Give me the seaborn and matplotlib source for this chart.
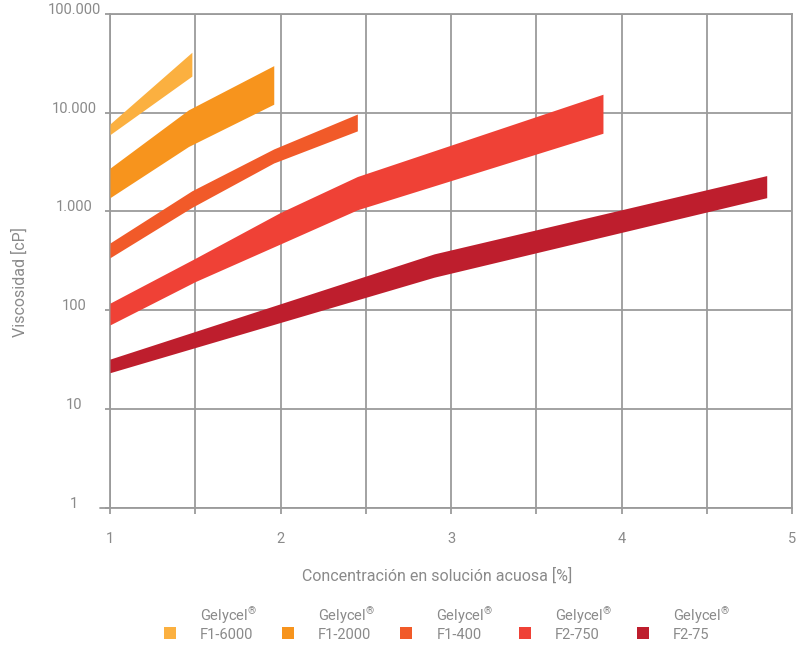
import numpy as np
import pandas as pd
import matplotlib
matplotlib.use("Agg")
import matplotlib.pyplot as plt
import seaborn as sns
from matplotlib.ticker import FixedLocator, FixedFormatter, NullFormatter

# ---------------- data ----------------
series = ["F1-6000", "F1-2000", "F1-400", "F2-750", "F2-75"]
brand = "Gelycel$^{®}$"
colors = ["#FBB040", "#F7941D", "#F15A29", "#EF4136", "#BE1E2D"]

f1_6000_x = [1.0, 1.48]
f1_6000_hi = [7700, 41000]
f1_6000_lo = [6000, 23500]

f1_2000_x = [1.0, 1.46, 1.96]
f1_2000_hi = [2750, 10700, 30000]
f1_2000_lo = [1380, 4550, 12200]

f1_400_x = [1.0, 1.48, 1.96, 2.45]
f1_400_hi = [480, 1620, 4300, 9700]
f1_400_lo = [340, 1100, 3100, 6550]

f2_750_x = [1.0, 1.5, 2.0, 2.45, 3.89]
f2_750_hi = [118, 336, 980, 2260, 15400]
f2_750_lo = [71, 195, 470, 1040, 6200]

f2_75_x = [1.0, 2.9, 4.85]
f2_75_hi = [32, 372, 2310]
f2_75_lo = [23.3, 216, 1380]

x_ticks = [1, 2, 3, 4, 5]
x_minor = [1.5, 2.5, 3.5, 4.5]
y_ticks = [1, 10, 100, 1000, 10000, 100000]
y_labels = ["1", "10", "100", "1.000", "10.000", "100.000"]

x_label = "Concentración en solución acuosa [%]"
y_label = "Viscosidad [cP]"

bands = {
    "F1-6000": (f1_6000_x, f1_6000_lo, f1_6000_hi),
    "F1-2000": (f1_2000_x, f1_2000_lo, f1_2000_hi),
    "F1-400": (f1_400_x, f1_400_lo, f1_400_hi),
    "F2-750": (f2_750_x, f2_750_lo, f2_750_hi),
    "F2-75": (f2_75_x, f2_75_lo, f2_75_hi),
}
rows = []
for name in series:
    xs, lo, hi = bands[name]
    for x, l, h in zip(xs, lo, hi):
        rows.append({"serie": name, "x": x, "lo": l, "hi": h})
df = pd.DataFrame(rows)

# ---------------- style ----------------
sns.set_theme(style="white")
plt.rcParams["font.family"] = ["Roboto", "DejaVu Sans"]
plt.rcParams["mathtext.fontset"] = "custom"
plt.rcParams["mathtext.rm"] = "Roboto"
plt.rcParams["mathtext.it"] = "Roboto"
plt.rcParams["mathtext.default"] = "regular"
grid_c = "#9b9b9b"
text_c = "#8a8a8a"
lw = 1.3

W, H = 799, 646
fig = plt.figure(figsize=(W / 100, H / 100), dpi=100)
x0, x1, y0, y1 = 110, 792.3, 14, 507.7
ax = fig.add_axes([x0 / W, 1 - y1 / H, (x1 - x0) / W, (y1 - y0) / H])

handles = []
for name, col in zip(series, colors):
    d = df[df["serie"] == name]
    ax.fill_between(d["x"], d["lo"], d["hi"], color=col, linewidth=0, zorder=3)
    handles.append(plt.Line2D([], [], marker="s", linestyle="none", markersize=8.4,
                              markerfacecolor=col, markeredgewidth=0))

ax.set_yscale("log")
ax.set_xlim(1, 5)
ax.set_ylim(1, 100000)

ax.xaxis.set_major_locator(FixedLocator(x_ticks))
ax.xaxis.set_minor_locator(FixedLocator(x_minor))
ax.xaxis.set_minor_formatter(NullFormatter())
ax.yaxis.set_major_locator(FixedLocator(y_ticks))
ax.yaxis.set_major_formatter(FixedFormatter(y_labels))
ax.yaxis.set_minor_locator(FixedLocator([]))

ax.grid(True, axis="x", which="both", color=grid_c, linewidth=lw, zorder=1)
ax.grid(True, axis="y", which="major", color=grid_c, linewidth=lw, zorder=1)
ax.set_axisbelow(True)
for s in ax.spines.values():
    s.set_color(grid_c)
    s.set_linewidth(lw)
    s.set_zorder(1)

ax.tick_params(axis="x", which="both", direction="out", length=4.3, width=lw,
               color=grid_c, pad=13, labelsize=10.5, labelcolor=text_c, bottom=True)
ax.tick_params(axis="y", which="major", direction="out", length=3.6, width=lw,
               color=grid_c, pad=22.3, labelsize=10.5, labelcolor=text_c, left=True)
for t in ax.get_yticklabels():
    t.set_verticalalignment("baseline")
    t.set_horizontalalignment("center")

# extension of the base line to the left
ax.plot([-10 / (x1 - x0), 0], [0, 0], transform=ax.transAxes, clip_on=False,
        color=grid_c, linewidth=lw)

ax.set_xlabel(x_label, fontsize=11.5, color=text_c)
ax.xaxis.set_label_coords((436.7 - x0) / (x1 - x0), (y1 - 568) / (y1 - y0))
ax.set_ylabel(y_label, fontsize=11.5, color=text_c)
ax.yaxis.set_label_coords((28 - x0) / (x1 - x0), (y1 - 282.5) / (y1 - y0))

fs = 10.5
leg = fig.legend(handles, [f"{brand}\n{s}" for s in series], ncol=5, frameon=False,
                 loc="center", bbox_to_anchor=(447 / W, 1 - 624 / H),
                 fontsize=fs, handlelength=0.8, handletextpad=1.66,
                 columnspacing=1.75, borderpad=0, labelcolor=text_c)
for hd in leg.legend_handles:
    yd = np.asarray(hd.get_ydata(), dtype=float)
    hd.set_ydata(yd - 0.6 * fs)

fig.savefig("out.png", dpi=100)
